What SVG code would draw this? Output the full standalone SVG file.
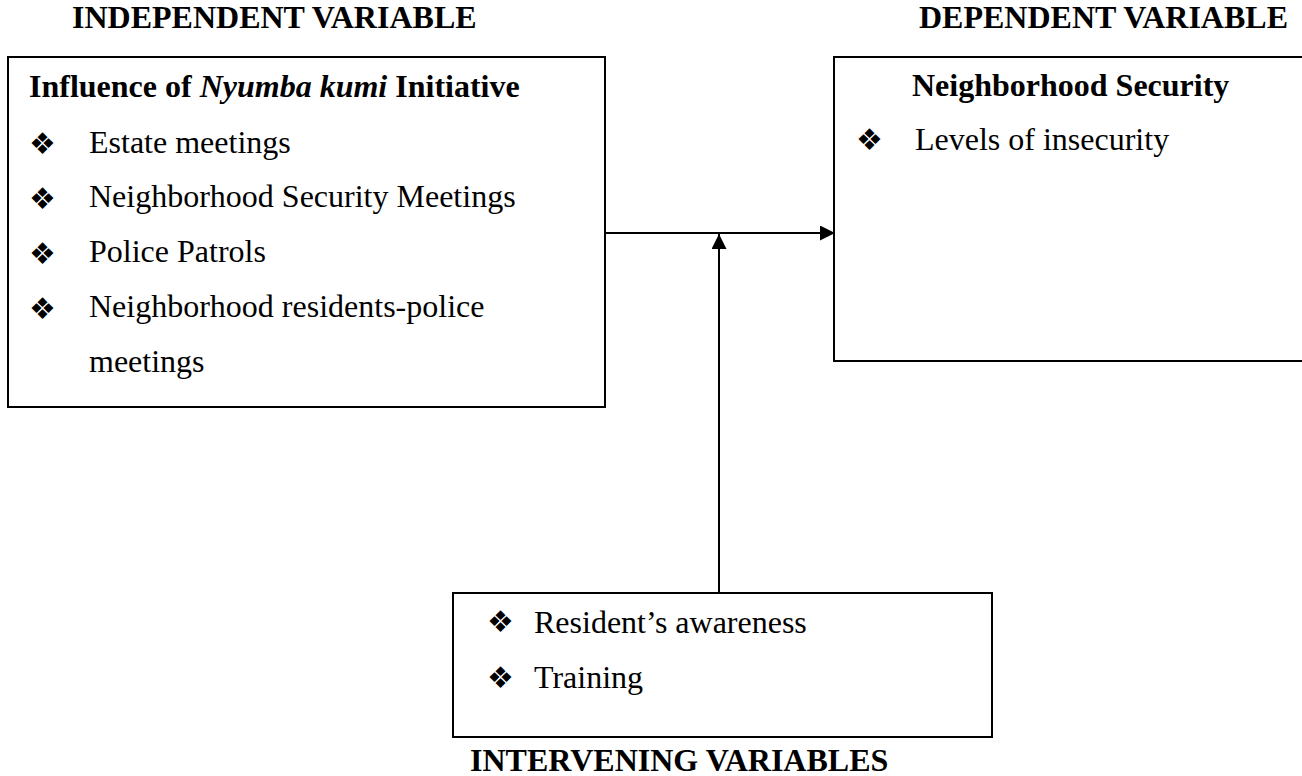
<svg xmlns="http://www.w3.org/2000/svg" width="1302" height="776" viewBox="0 0 1302 776">
<defs>
<style>
.box{fill:#fff;stroke:#000;stroke-width:2}
.hd{font-family:"Liberation Serif","Times New Roman",serif;font-weight:bold;font-size:32px;fill:#000}
.tt{font-family:"Liberation Serif","Times New Roman",serif;font-weight:bold;font-size:32px;fill:#000}
.tx{font-family:"Liberation Serif","Times New Roman",serif;font-size:32px;fill:#000}
.bl{font-family:"DejaVu Sans",sans-serif;font-size:30px;fill:#000;text-anchor:middle}
.cn{stroke:#000;stroke-width:2;fill:none}
</style>
<marker id="ah" markerWidth="16" markerHeight="15" refX="15" refY="7.5" orient="auto" markerUnits="userSpaceOnUse">
<path d="M0,0 L15,7.5 L0,15 z" fill="#000"/>
</marker>
</defs>
<rect width="1302" height="776" fill="#fff"/>

<g id="label-independent"><text class="hd" x="72" y="28">INDEPENDENT VARIABLE</text></g>
<g id="label-dependent"><text class="hd" x="919" y="28">DEPENDENT VARIABLE</text></g>
<g id="label-intervening"><text class="hd" x="470" y="771">INTERVENING VARIABLES</text></g>

<g id="independent">
<rect class="box" x="8" y="57" width="597" height="350"/>
<text class="tt" x="29" y="97">Influence of <tspan font-style="italic">Nyumba kumi</tspan> Initiative</text>
<text class="bl" x="42.5" y="153.5">❖</text>
<text class="tx" x="89" y="153">Estate meetings</text>
<text class="bl" x="42.5" y="208.5">❖</text>
<text class="tx" x="89" y="207">Neighborhood Security Meetings</text>
<text class="bl" x="42.5" y="263.5">❖</text>
<text class="tx" x="89" y="262">Police Patrols</text>
<text class="bl" x="42.5" y="318.5">❖</text>
<text class="tx" x="89" y="317">Neighborhood residents-police</text>
<text class="tx" x="89" y="372">meetings</text>
</g>

<g id="dependent">
<rect class="box" x="834" y="57" width="500" height="304"/>
<text class="tt" x="912" y="96">Neighborhood Security</text>
<text class="bl" x="869.5" y="149.5">❖</text>
<text class="tx" x="915" y="150">Levels of insecurity</text>
</g>

<g id="intervening">
<rect class="box" x="453" y="593" width="539" height="144"/>
<text class="bl" x="500.5" y="631.5">❖</text>
<text class="tx" x="534" y="633">Resident’s awareness</text>
<text class="bl" x="500.5" y="687.5">❖</text>
<text class="tx" x="534" y="688">Training</text>
</g>

<g id="connectors">
<line class="cn" x1="605" y1="233" x2="835" y2="233" marker-end="url(#ah)"/>
<line class="cn" x1="719" y1="593" x2="719" y2="234" marker-end="url(#ah)"/>
</g>
</svg>
